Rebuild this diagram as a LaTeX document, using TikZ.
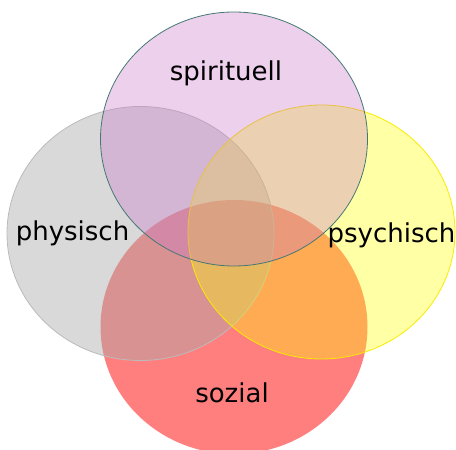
\documentclass[tikz,border=0pt]{standalone}
\usepackage{fontspec}
\setmainfont{DejaVu Sans}
\definecolor{spiritC}{RGB}{200, 120, 200}
\definecolor{spiritLine}{RGB}{70, 120, 115}
\definecolor{physC}{RGB}{170, 170, 170}
\definecolor{psychC}{RGB}{255, 255, 0}
\definecolor{psychLine}{RGB}{250, 235, 0}
\definecolor{sozC}{RGB}{255, 0, 0}
\usetikzlibrary{shapes.geometric, positioning}

\begin{document}
\begin{tikzpicture}[
                x=1pt, y=1pt,
                every node/.style={align=center},
                area/.style={ellipse, inner sep=0pt, minimum width=267pt, minimum height=254pt, line width=0.8pt},
                lbl/.style={anchor=base, font=\fontsize{26}{30}\selectfont, text=black}
            ]
                \useasboundingbox (0,0) rectangle (456,450);
                % the four areas
                \node[area, fill=sozC, fill opacity=0.5, draw=none] (sozial) at (234,123) {};
                \node[area, fill=physC, fill opacity=0.45, draw=physC!80] (physisch) at (140.5,216.5) {};
                \node[area, fill=psychC, fill opacity=0.35, draw=psychLine] (psychisch) at (321.5,218) {};
                \node[area, fill=spiritC, fill opacity=0.35, draw=spiritLine] (spirituell) at (234,311) {};
                % labels
                \node[lbl] (tSpirit) at (226,369) {spirituell};
                \node[lbl] (tPhys) at (72.5,209) {physisch};
                \node[lbl] (tPsych) at (391.5,207) {psychisch};
                \node[lbl] (tSoz) at (232,47) {sozial};
            \end{tikzpicture}
\end{document}
